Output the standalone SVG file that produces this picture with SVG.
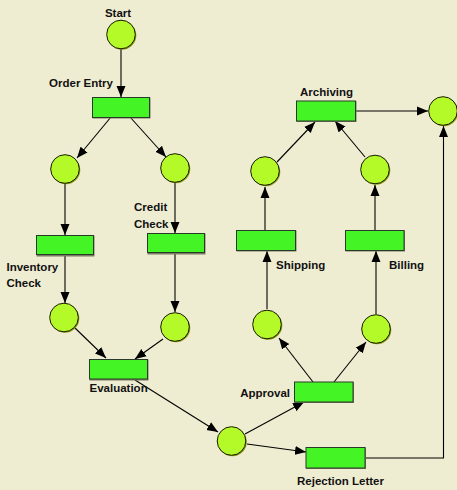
<svg xmlns="http://www.w3.org/2000/svg" width="457" height="490" viewBox="0 0 457 490">
<defs>
<marker id="ah" markerUnits="userSpaceOnUse" markerWidth="12" markerHeight="10" refX="11" refY="5" orient="auto">
<path d="M0,0.5 L11,5 L0,9.5 Z" fill="#000"/>
</marker>
</defs>
<style>
.place circle.s{fill:#8a9a10;stroke:none}
.place circle.p{fill:#b4fa28;stroke:#1a1a00;stroke-width:1}
.trans rect.s{fill:#7a7a60;stroke:none}
.trans rect.t{fill:#44f424;stroke:#2a3a2a;stroke-width:1}
.lbl{font-family:"Liberation Sans",Arial,sans-serif;font-weight:bold;font-size:11.5px;fill:#111}
#connectors path{fill:none;stroke:#000;stroke-width:1.1;marker-end:url(#ah)}
</style>
<rect x="0" y="0" width="457" height="490" fill="#efedd1"/>

<g id="connectors">
<path d="M121,49 L121,97"/>
<path d="M111,117 L77,158"/>
<path d="M130,117 L166,157"/>
<path d="M65,184 L65,235"/>
<path d="M175,183 L175,233"/>
<path d="M65,255 L65,303"/>
<path d="M175,253 L175,312"/>
<path d="M75,328 L106,358"/>
<path d="M163,339 L135,359"/>
<path d="M135,380 L218,432"/>
<path d="M245,434 L304,402"/>
<path d="M247,444 L306,452"/>
<path d="M313,382 L279,338"/>
<path d="M334,382 L366,342"/>
<path d="M267,309 L267,251"/>
<path d="M376,314 L376,251"/>
<path d="M265,230 L265,187"/>
<path d="M375,230 L375,185"/>
<path d="M277,162 L315,122"/>
<path d="M365,157 L335,121"/>
<path d="M356,111 L428,111"/>
<path d="M365,458 L443.5,458 L443.5,126"/>
</g>

<g id="start" class="place"><circle class="s" cx="122" cy="35.5" r="14.3"/><circle class="p" cx="121" cy="34.5" r="14.3"/><text class="lbl" x="118" y="17" text-anchor="middle">Start</text></g>
<g id="p_left1" class="place"><circle class="s" cx="66" cy="170" r="14.3"/><circle class="p" cx="65" cy="169" r="14.3"/></g>
<g id="p_right1" class="place"><circle class="s" cx="176" cy="169" r="14.3"/><circle class="p" cx="175" cy="168" r="14.3"/></g>
<g id="p_left2" class="place"><circle class="s" cx="65" cy="318.5" r="14.3"/><circle class="p" cx="64" cy="317.5" r="14.3"/></g>
<g id="p_right2" class="place"><circle class="s" cx="176" cy="328" r="14.3"/><circle class="p" cx="175" cy="327" r="14.3"/></g>
<g id="p_decision" class="place"><circle class="s" cx="232.5" cy="442" r="14.3"/><circle class="p" cx="231.5" cy="441" r="14.3"/></g>
<g id="p_ship_in" class="place"><circle class="s" cx="268" cy="325.5" r="14.3"/><circle class="p" cx="267" cy="324.5" r="14.3"/></g>
<g id="p_bill_in" class="place"><circle class="s" cx="377" cy="330" r="14.3"/><circle class="p" cx="376" cy="329" r="14.3"/></g>
<g id="p_ship_out" class="place"><circle class="s" cx="266" cy="172" r="14.3"/><circle class="p" cx="265" cy="171" r="14.3"/></g>
<g id="p_bill_out" class="place"><circle class="s" cx="376" cy="170.5" r="14.3"/><circle class="p" cx="375" cy="169.5" r="14.3"/></g>
<g id="p_end" class="place"><circle class="s" cx="444" cy="112" r="14.3"/><circle class="p" cx="443" cy="111" r="14.3"/></g>

<g id="order_entry" class="trans"><rect class="s" x="92.5" y="97.5" width="58" height="21"/><rect class="t" x="92.5" y="97.5" width="57" height="20"/><text class="lbl" x="113" y="87" text-anchor="end">Order Entry</text></g>
<g id="inventory_check" class="trans"><rect class="s" x="36.5" y="235.5" width="58" height="21"/><rect class="t" x="36.5" y="235.5" width="57" height="19"/><text class="lbl" x="6.5" y="271">Inventory</text><text class="lbl" x="6.5" y="287">Check</text></g>
<g id="credit_check" class="trans"><rect class="s" x="147.5" y="233.5" width="58" height="21"/><rect class="t" x="147.5" y="233.5" width="57" height="19"/><text class="lbl" x="134" y="211">Credit</text><text class="lbl" x="134" y="228">Check</text></g>
<g id="evaluation" class="trans"><rect class="s" x="89.5" y="359.5" width="59" height="21"/><rect class="t" x="89.5" y="359.5" width="58" height="19.5"/><text class="lbl" x="89.5" y="392">Evaluation</text></g>
<g id="approval" class="trans"><rect class="s" x="294.5" y="382" width="59.5" height="21"/><rect class="t" x="294.5" y="382" width="58.5" height="20"/><text class="lbl" x="290" y="397" text-anchor="end">Approval</text></g>
<g id="rejection_letter" class="trans"><rect class="s" x="306" y="447.5" width="60" height="21.5"/><rect class="t" x="306" y="447.5" width="59" height="20.5"/><text class="lbl" x="297" y="485">Rejection Letter</text></g>
<g id="shipping" class="trans"><rect class="s" x="236.5" y="230.5" width="60" height="21"/><rect class="t" x="236.5" y="230.5" width="59" height="20"/><text class="lbl" x="276" y="269">Shipping</text></g>
<g id="billing" class="trans"><rect class="s" x="345.5" y="230.5" width="59.5" height="21"/><rect class="t" x="345.5" y="230.5" width="58.5" height="20"/><text class="lbl" x="389" y="269">Billing</text></g>
<g id="archiving" class="trans"><rect class="s" x="296.5" y="101" width="60" height="21"/><rect class="t" x="296.5" y="101" width="59" height="20"/><text class="lbl" x="300" y="96">Archiving</text></g>
</svg>
